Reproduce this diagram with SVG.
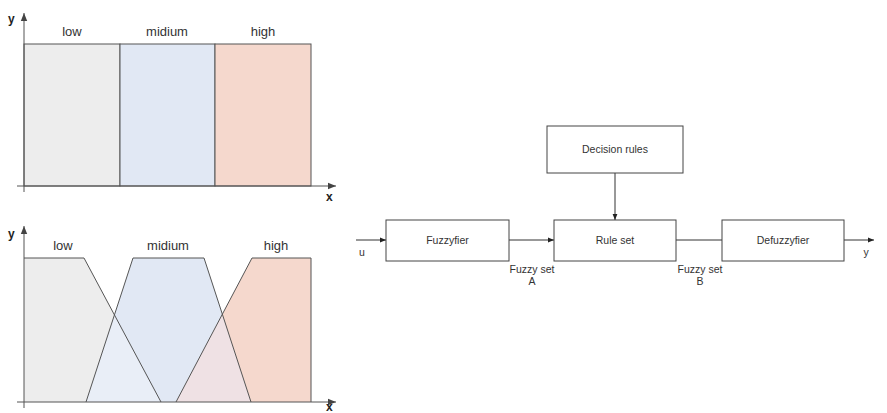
<svg xmlns="http://www.w3.org/2000/svg" width="887" height="413" viewBox="0 0 887 413">
<defs>
<marker id="ah" viewBox="0 0 10 10" refX="10" refY="5" markerWidth="6" markerHeight="6" orient="auto" markerUnits="userSpaceOnUse">
<path d="M0,1 L10,5 L0,9 Z" fill="#222"/>
</marker>
<marker id="ax" viewBox="0 0 10 10" refX="10" refY="5" markerWidth="8" markerHeight="8" orient="auto" markerUnits="userSpaceOnUse">
<path d="M0,1 L10,5 L0,9 Z" fill="#444"/>
</marker>
</defs>
<style>
text{font-family:"Liberation Sans",Arial,sans-serif;fill:#333}
.lbl{font-size:13px;text-anchor:middle}
.axl{font-size:12px;font-weight:bold;fill:#222}
.axis{stroke:#555;stroke-width:1;fill:none}
.seg{stroke:#555;stroke-width:1}
.box{fill:#fff;stroke:#444;stroke-width:1}
.bt{font-size:10.5px;text-anchor:middle}
.con{stroke:#333;stroke-width:1;fill:none}
</style>
<rect width="887" height="413" fill="#fff"/>

<g id="chart-top">
<rect x="24" y="44" width="96" height="142" fill="#ededed" class="seg"/>
<rect x="120" y="44" width="95" height="142" fill="#e1e8f4" class="seg"/>
<rect x="215" y="44" width="96" height="142" fill="#f5d8cd" class="seg"/>
<line class="axis" x1="24" y1="192" x2="24" y2="13" marker-end="url(#ax)"/>
<line class="axis" x1="17" y1="186" x2="336" y2="186" marker-end="url(#ax)"/>
<text class="axl" x="8" y="23">y</text>
<text class="axl" x="326" y="201">x</text>
<text class="lbl" x="72" y="36">low</text>
<text class="lbl" x="167" y="36">midium</text>
<text class="lbl" x="263" y="36">high</text>
</g>

<g id="chart-bottom">
<polygon points="24,402 24,258 84,258 161,402" fill="#ededed"/>
<polygon points="86,402 133,258 204,258 251,402" fill="#e1e8f4"/>
<polygon points="176,402 252,258 311,258 311,402" fill="#f5d8cd"/>
<polygon points="114.4,314.9 86,402 161,402" fill="#e9eef7"/>
<polygon points="222.3,314.2 176,402 251,402" fill="#efe1e4"/>
<polyline class="seg" fill="none" points="24,258 84,258 161,402"/>
<polyline class="seg" fill="none" points="86,402 133,258 204,258 251,402"/>
<polyline class="seg" fill="none" points="176,402 252,258 311,258 311,402"/>
<line class="axis" x1="24" y1="408" x2="24" y2="226" marker-end="url(#ax)"/>
<line class="axis" x1="17" y1="402" x2="336" y2="402" marker-end="url(#ax)"/>
<text class="axl" x="8" y="238">y</text>
<text class="axl" x="326" y="411">x</text>
<text class="lbl" x="63" y="250">low</text>
<text class="lbl" x="168" y="250">midium</text>
<text class="lbl" x="276" y="250">high</text>
</g>

<g id="connectors">
<line class="con" x1="356" y1="240" x2="386" y2="240" marker-end="url(#ah)"/>
<line class="con" x1="509" y1="240" x2="554" y2="240" marker-end="url(#ah)"/>
<line class="con" x1="676" y1="240" x2="722" y2="240"/>
<line class="con" x1="844" y1="240" x2="874" y2="240" marker-end="url(#ah)"/>
<line class="con" x1="615" y1="173" x2="615" y2="220" marker-end="url(#ah)"/>
<text class="bt" x="362" y="256">u</text>
<text class="bt" x="866" y="256">y</text>
<text class="bt" x="532" y="273">Fuzzy set</text>
<text class="bt" x="532" y="285">A</text>
<text class="bt" x="700" y="273">Fuzzy set</text>
<text class="bt" x="700" y="285">B</text>
</g>

<g id="decision-rules">
<rect class="box" x="547" y="126" width="136" height="47"/>
<text class="bt" x="615" y="153">Decision rules</text>
</g>
<g id="fuzzyfier">
<rect class="box" x="386" y="220" width="123" height="41"/>
<text class="bt" x="447.5" y="244">Fuzzyfier</text>
</g>
<g id="rule-set">
<rect class="box" x="554" y="220" width="122" height="41"/>
<text class="bt" x="615" y="244">Rule set</text>
</g>
<g id="defuzzyfier">
<rect class="box" x="722" y="220" width="122" height="41"/>
<text class="bt" x="783" y="244">Defuzzyfier</text>
</g>
</svg>
